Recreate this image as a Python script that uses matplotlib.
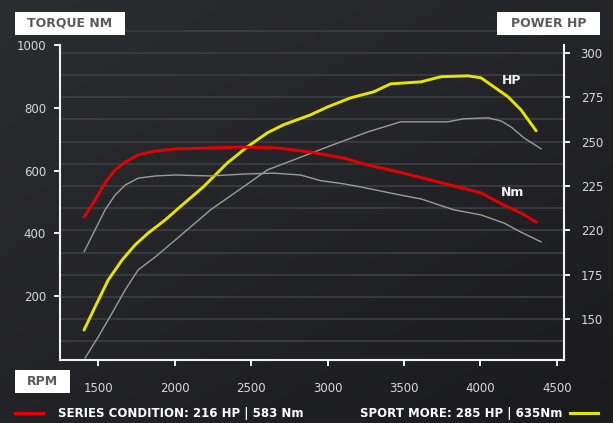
import matplotlib
matplotlib.use("Agg")
import matplotlib.pyplot as plt
from matplotlib.lines import Line2D
import numpy as np

# tuned torque (Nm, left axis)
rpm_nm_tuned = [1408, 1480, 1546, 1611, 1677, 1762, 1874, 2005, 2234, 2450, 2673, 2889, 3106, 3263, 3479, 3610, 3826, 4003, 4154, 4265, 4364]
nm_tuned = [452, 506, 561, 602, 627, 650, 662, 669, 672, 675, 672, 659, 640, 618, 594, 578, 551, 529, 490, 465, 436]

# stock torque (Nm, left axis)
rpm_nm_stock = [1408, 1480, 1546, 1611, 1677, 1762, 1874, 2005, 2234, 2450, 2647, 2824, 2955, 3106, 3217, 3479, 3610, 3826, 4003, 4154, 4265, 4397]
nm_stock = [341, 411, 475, 522, 554, 576, 583, 586, 583, 589, 592, 586, 568, 558, 548, 522, 510, 475, 459, 433, 404, 373]

# tuned power (HP, right axis)
rpm_hp_tuned = [1408, 1480, 1566, 1657, 1742, 1828, 1939, 2050, 2188, 2345, 2476, 2607, 2712, 2889, 3001, 3151, 3302, 3413, 3610, 3741, 3918, 4003, 4088, 4180, 4265, 4364]
hp_tuned = [143.8, 156.8, 172.0, 183.3, 191.8, 198.5, 205.9, 214.3, 224.5, 238.0, 247.1, 255.0, 259.5, 265.1, 269.6, 274.7, 278.1, 282.6, 283.7, 286.6, 287.1, 286.0, 280.9, 275.3, 267.9, 256.1]

# stock power (HP, right axis)
rpm_hp_stock = [1415, 1500, 1592, 1677, 1762, 1874, 2005, 2136, 2234, 2450, 2607, 2778, 3001, 3263, 3479, 3610, 3787, 3892, 4049, 4134, 4200, 4285, 4397]
hp_stock = [128.0, 139.8, 153.4, 166.4, 177.7, 185.0, 194.6, 204.2, 211.5, 224.5, 234.1, 239.7, 247.1, 255.5, 261.2, 261.2, 261.2, 262.9, 263.4, 261.7, 258.3, 252.1, 245.9]

x_ticks = [1500, 2000, 2500, 3000, 3500, 4000, 4500]
nm_ticks = [200, 400, 600, 800, 1000]
hp_ticks = [150, 175, 200, 225, 250, 275, 300]
hp_tick_labels = ["150", "175", "220", "225", "250", "275", "300"]

W, H = 613, 423
fig = plt.figure(figsize=(W / 100, H / 100), dpi=100)
fig.patch.set_facecolor("#202024")

# background gradient
bg = fig.add_axes([0, 0, 1, 1], zorder=-10)
yy, xx = np.mgrid[0:1:200j, 0:1:300j]
grad = 0.55 * (1 - yy) + 0.45 * (1 - xx)
bg.imshow(grad, cmap=matplotlib.colors.LinearSegmentedColormap.from_list("bg", ["#1b1b1e", "#2c2d31"]),
          extent=[0, 1, 0, 1], aspect="auto", origin="upper")
bg.axis("off")

left, right, top, bottom = 60, 564, 12, 360
ax = fig.add_axes([left / W, 1 - bottom / H, (right - left) / W, (bottom - top) / H])
ax.set_facecolor("none")
ax2 = ax.twinx()

ax.set_xlim(1251, 4546)
ax.set_ylim(-3, 1105)
ax2.set_ylim(126.9, 323.1)

# grid lines
for v in np.arange(137.5, 326, 12.5):
    ax2.axhline(v, color="#3a3b40", lw=1.4, zorder=0)

lab_col = "#d8d8d8"
for a in (ax, ax2):
    a.spines["top"].set_visible(False)
ax2.spines["bottom"].set_visible(False)
ax2.spines["left"].set_visible(False)
ax.spines["right"].set_visible(False)
ax.spines["left"].set_bounds(-3, 1000)
ax2.spines["right"].set_bounds(126.9, 304.5)
for s in (ax.spines["left"], ax.spines["bottom"], ax2.spines["right"]):
    s.set_color("#f2f2f2")
    s.set_linewidth(1.5)

ax.set_xticks(x_ticks)
ax.set_yticks(nm_ticks)
ax2.set_yticks(hp_ticks)
ax2.set_yticklabels(hp_tick_labels)
ax.tick_params(colors="#f2f2f2", labelcolor=lab_col, labelsize=8.5, length=4, width=1.4)
ax2.tick_params(colors="#f2f2f2", labelcolor=lab_col, labelsize=8.5, length=4, width=1.4, pad=8)
ax.tick_params(axis="x", pad=12)
ax.tick_params(axis="y", pad=6)

ax2.plot(rpm_hp_stock, hp_stock, color="#9c9c9c", lw=1.0, solid_capstyle="round", solid_joinstyle="round")
ax.plot(rpm_nm_stock, nm_stock, color="#9c9c9c", lw=1.0, solid_capstyle="round", solid_joinstyle="round")
ax.plot(rpm_nm_tuned, nm_tuned, color="#e80000", lw=2.1, solid_capstyle="round", solid_joinstyle="round", zorder=5)
ax2.plot(rpm_hp_tuned, hp_tuned, color="#e6e400", lw=2.1, solid_capstyle="round", solid_joinstyle="round", zorder=5)

ax2.set_zorder(1)
ax.set_zorder(2)

fig.text(512 / W, 1 - 80 / H, "HP", color="#f0f0f0", fontsize=9, fontweight="bold", ha="center", va="center")
fig.text(513 / W, 1 - 192 / H, "Nm", color="#f0f0f0", fontsize=9, fontweight="bold", ha="center", va="center")

def box(x0, y0, x1, y1, text):
    fig.patches.append(matplotlib.patches.Rectangle((x0 / W, 1 - y1 / H), (x1 - x0) / W, (y1 - y0) / H,
                                                    transform=fig.transFigure, facecolor="white",
                                                    edgecolor="none", zorder=20))
    fig.text((x0 + x1) / 2 / W, 1 - (y0 + y1) / 2 / H, text, color="#5a5a5a", fontsize=9,
             fontweight="bold", ha="center", va="center", zorder=21)

box(15, 12, 125, 35, "TORQUE NM")
box(497, 12, 600, 35, "POWER HP")
box(15, 370, 70, 393, "RPM")

# legend
fig.lines.append(Line2D([15 / W, 43 / W], [1 - 413 / H] * 2, color="#e80000", lw=2.2, transform=fig.transFigure))
fig.text(58 / W, 1 - 413 / H, "SERIES CONDITION: 216 HP | 583 Nm", color="white", fontsize=8.5,
         fontweight="bold", va="center", ha="left")
fig.lines.append(Line2D([570 / W, 598 / W], [1 - 413 / H] * 2, color="#e6e400", lw=2.2, transform=fig.transFigure))
fig.text(562 / W, 1 - 413 / H, "SPORT MORE: 285 HP | 635Nm", color="white", fontsize=8.5,
         fontweight="bold", va="center", ha="right")

fig.savefig("out.png", dpi=100, facecolor=fig.get_facecolor())
